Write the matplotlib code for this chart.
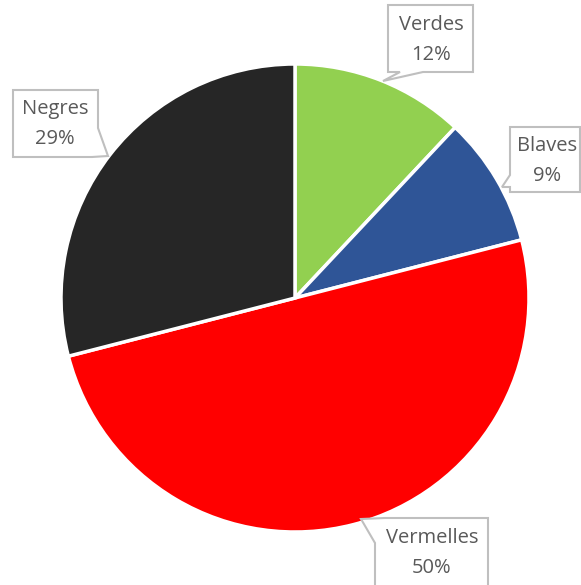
import matplotlib.pyplot as plt
from matplotlib.patches import Polygon

# ---------- data ----------
labels = ["Verdes", "Blaves", "Vermelles", "Negres"]
values = [12, 9, 50, 29]
colors = ["#92D050", "#2F5597", "#FF0000", "#262626"]

W, H = 581, 585

fig = plt.figure(figsize=(W / 100, H / 100), dpi=100)
ax = fig.add_axes([0, 0, 1, 1])

ax.pie(values, colors=colors, startangle=90, counterclock=False,
       center=(295, H - 298), radius=234, frame=True,
       wedgeprops=dict(edgecolor="white", linewidth=2.5))
ax.set_xlim(0, W)
ax.set_ylim(0, H)
ax.set_aspect("equal")
ax.axis("off")

# callout shapes (pixel coords, y from top)
callouts = {
    "Verdes": ([(388, 5), (473, 5), (473, 72), (423, 72), (383, 81), (400, 72), (388, 72)], (431, 40)),
    "Blaves": ([(510, 127), (580, 127), (580, 192), (510, 192), (510, 187), (502, 187), (510, 175)], (547, 161)),
    "Negres": ([(13, 90), (98, 90), (98, 128), (108, 156), (92, 157), (13, 157)], (55, 124)),
    "Vermelles": ([(385, 518), (488, 518), (488, 592), (375, 592), (375, 543), (361, 519)], (432, 553)),
}

for lab, val in zip(labels, values):
    pts, (tx, ty) = callouts[lab]
    poly = Polygon([(x, H - y) for x, y in pts], closed=True,
                   facecolor="white", edgecolor="#BFBFBF", linewidth=1.5, zorder=5)
    ax.add_patch(poly)
    ax.text(tx, H - ty, f"{lab}\n{val}%", ha="center", va="center",
            fontsize=14.5, color="#595959", linespacing=1.7, zorder=6,
            family="Open Sans")

plt.savefig("out.png", dpi=100)
